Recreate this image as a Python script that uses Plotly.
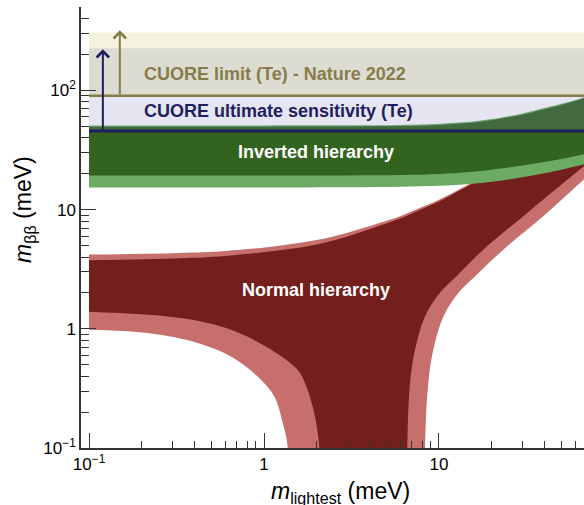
import numpy as np
import plotly.graph_objects as go

# ---------------- data (meV) ----------------
# Inverted hierarchy band boundaries
ih_x = [0.1, 1, 3, 6, 10, 15, 20, 30, 40, 50, 70, 90]
ih_light_top = [50.8, 50.8, 50.9, 51.3, 52.5, 54.5, 57.5, 64, 71, 77, 89, 105]
ih_dark_top = [49.6, 49.6, 49.7, 50.1, 51.3, 53.2, 56.2, 62.5, 69.5, 75.5, 87.5, 103]
ih_dark_low = [19.3, 19.3, 19.35, 19.5, 19.9, 20.7, 21.6, 23.4, 25.0, 26.5, 29.5, 32]
ih_light_low = [15.3, 15.3, 15.35, 15.5, 15.8, 16.4, 17.1, 18.7, 20.2, 21.6, 24.3, 27]

# Normal hierarchy band boundaries
nh_top_x = [0.1, 0.33, 0.6, 1.23, 2, 3, 4.6, 6, 7.8, 10, 13.5, 20, 30, 50, 90]
nh_light_top = [4.19, 4.33, 4.5, 4.98, 5.55, 6.4, 7.75, 8.8, 10.35, 12.1, 15.2, 20.8, 30.5, 50.5, 90]
nh_dark_top = [3.75, 3.9, 4.08, 4.55, 5.1, 5.95, 7.35, 8.4, 9.95, 11.7, 14.8, 20.4, 30, 50, 89.5]

nh_light_low_x = [0.1, 0.216, 0.418, 0.648, 0.92, 1.145, 1.28, 1.365, 1.40,
                  8.2, 8.32, 8.69, 9.28, 10.6, 12.9, 16.1, 23.3, 39.4, 63.9, 90]
nh_light_low = [0.98, 0.92, 0.76, 0.585, 0.397, 0.27, 0.161, 0.1025, 0.001,
                0.001, 0.1025, 0.35, 0.667, 1.27, 2.0, 2.76, 4.61, 8.79, 16.7, 26]

nh_dark_low_x = [0.1, 0.335, 0.648, 1.096, 1.56, 1.715, 1.9, 2.07, 2.12,
                 6.5, 6.59, 6.83, 7.29, 8.32, 10.1, 12.6, 17.9, 30.3, 51.3, 63.9, 90]
nh_dark_low = [1.39, 1.23, 0.98, 0.67, 0.45, 0.351, 0.22, 0.1025, 0.001,
               0.001, 0.1025, 0.35, 0.667, 1.27, 2.0, 2.76, 4.61, 8.79, 16.7, 21.7, 32]

# Horizontal experimental bands
band_x = [0.1, 90]
limit_band = [90, 305]        # outer pale band
limit_core = [90, 225]        # grey band
sens_band = [45.5, 90]        # lavender band
cuore_limit = 90
cuore_sens = 45.5
arrow_limit_x = 0.15
arrow_limit_top = 319
arrow_sens_x = 0.12
arrow_sens_top = 221

x_tickvals = [0.1, 1, 10]
x_ticktext = ["10<sup>\u22121</sup>", "1", "10"]
y_tickvals = [0.1, 1, 10, 100]
y_ticktext = ["10<sup>\u22121</sup>", "1", "10", "10<sup>2</sup>"]

# ---------------- styles ----------------
FONT = "Liberation Sans, Arial, Helvetica, sans-serif"
NH_DARK = "#721f1d"
NH_LIGHT = "#c76f6d"
IH_DARK = "#32641f"
IH_LIGHT = "#6bab62"
OLIVE = "#877c4a"
NAVY = "#1f1f5e"
AXIS = "#333333"


def lg(v):
    return float(np.log10(v))


fig = go.Figure()


def hband(lo_hi, color):
    lo, hi = lo_hi
    fig.add_trace(go.Scatter(
        x=[band_x[0], band_x[1], band_x[1], band_x[0]],
        y=[lo, lo, hi, hi], fill="toself", fillcolor=color,
        mode="lines", line=dict(width=0), hoverinfo="skip", showlegend=False))


def curve_band(xt, yt, xl, yl, color):
    fig.add_trace(go.Scatter(x=xt, y=yt, mode="lines",
                             line=dict(width=0, shape="spline"),
                             hoverinfo="skip", showlegend=False))
    fig.add_trace(go.Scatter(x=xl, y=yl, mode="lines", fill="tonexty",
                             fillcolor=color,
                             line=dict(width=0, shape="spline"),
                             hoverinfo="skip", showlegend=False))


hband(limit_band, "#f5f2e0")
hband(limit_core, "#dddcd3")

curve_band(nh_top_x, nh_light_top, nh_light_low_x, nh_light_low, NH_LIGHT)
curve_band(nh_top_x, nh_dark_top, nh_dark_low_x, nh_dark_low, NH_DARK)
curve_band(ih_x, ih_light_top, ih_x, ih_light_low, IH_LIGHT)
curve_band(ih_x, ih_dark_top, ih_x, ih_dark_low, IH_DARK)

hband(sens_band, "rgba(130,130,190,0.2)")

fig.add_trace(go.Scatter(x=band_x, y=[cuore_limit, cuore_limit], mode="lines",
                         line=dict(color=OLIVE, width=2.5),
                         hoverinfo="skip", showlegend=False))
fig.add_trace(go.Scatter(x=band_x, y=[cuore_sens, cuore_sens], mode="lines",
                         line=dict(color=NAVY, width=3),
                         hoverinfo="skip", showlegend=False))

annotations = []
# arrows
for ax_, lo, hi, col in [(arrow_limit_x, cuore_limit, arrow_limit_top, OLIVE),
                         (arrow_sens_x, cuore_sens, arrow_sens_top, NAVY)]:
    annotations.append(dict(x=lg(ax_), y=lg(hi), ax=lg(ax_), ay=lg(lo),
                            xref="x", yref="y", axref="x", ayref="y",
                            text="", showarrow=True, arrowhead=4,
                            arrowsize=1.2, arrowwidth=2, arrowcolor=col,
                            standoff=0))

annotations += [
    dict(x=lg(0.2), y=lg(136), xref="x", yref="y", xanchor="left",
         text="<b>CUORE limit (Te) - Nature 2022</b>", showarrow=False,
         font=dict(family=FONT, size=18, color=OLIVE)),
    dict(x=lg(0.2), y=lg(67), xref="x", yref="y", xanchor="left",
         text="<b>CUORE ultimate sensitivity (Te)</b>", showarrow=False,
         font=dict(family=FONT, size=18, color=NAVY)),
    dict(x=lg(1.98), y=lg(30.3), xref="x", yref="y",
         text="<b>Inverted hierarchy</b>", showarrow=False,
         font=dict(family=FONT, size=18, color="white")),
    dict(x=lg(1.97), y=lg(2.13), xref="x", yref="y",
         text="<b>Normal hierarchy</b>", showarrow=False,
         font=dict(family=FONT, size=18, color="white")),
    dict(x=(340 - 81) / 503, y=(448 - 492) / 441, xref="paper", yref="paper",
         text="<i>m</i><sub>lightest</sub> (meV)", showarrow=False,
         xanchor="center", yanchor="middle",
         font=dict(family=FONT, size=23, color="black")),
    dict(x=(24 - 81) / 503, y=(448 - 210) / 441, xref="paper", yref="paper",
         text="<i>m</i><sub>\u03b2\u03b2</sub> (meV)", showarrow=False,
         xanchor="center", yanchor="middle",
         textangle=-90, font=dict(family=FONT, size=23, color="black")),
]

x_minor = [k * 10.0 ** e for e in (-2, -1, 0, 1) for k in range(2, 10)]
y_minor = [k * 10.0 ** e for e in (-1, 0, 1, 2) for k in range(2, 10)]

fig.update_layout(
    width=584, height=505,
    margin=dict(l=81, r=0, t=7, b=57),
    paper_bgcolor="white", plot_bgcolor="white",
    annotations=annotations,
    font=dict(family=FONT, size=17, color="black"),
    xaxis=dict(type="log", range=[lg(0.09), lg(67.4)],
               showline=True, linecolor=AXIS, linewidth=1.5,
               ticks="inside", ticklen=15, tickwidth=1.2, tickcolor=AXIS,
               tickvals=x_tickvals, ticktext=x_ticktext,
               tickfont=dict(family=FONT, size=17, color="black"),
               showgrid=False, zeroline=False,
               minor=dict(ticks="inside", ticklen=7, tickwidth=1.2,
                          tickcolor=AXIS, tickvals=x_minor, showgrid=False)),
    yaxis=dict(type="log", range=[-1, lg(500)],
               showline=True, linecolor=AXIS, linewidth=1.5,
               ticks="inside", ticklen=15, tickwidth=1.2, tickcolor=AXIS,
               tickvals=y_tickvals, ticktext=y_ticktext,
               tickfont=dict(family=FONT, size=17, color="black"),
               showgrid=False, zeroline=False,
               minor=dict(ticks="inside", ticklen=8, tickwidth=1.2,
                          tickcolor=AXIS, tickvals=y_minor, showgrid=False)),
)

fig.write_html("out.html",
               config={"displayModeBar": False},
               post_script="document.body.style.margin='0';"
                           "document.body.style.overflow='hidden';")
